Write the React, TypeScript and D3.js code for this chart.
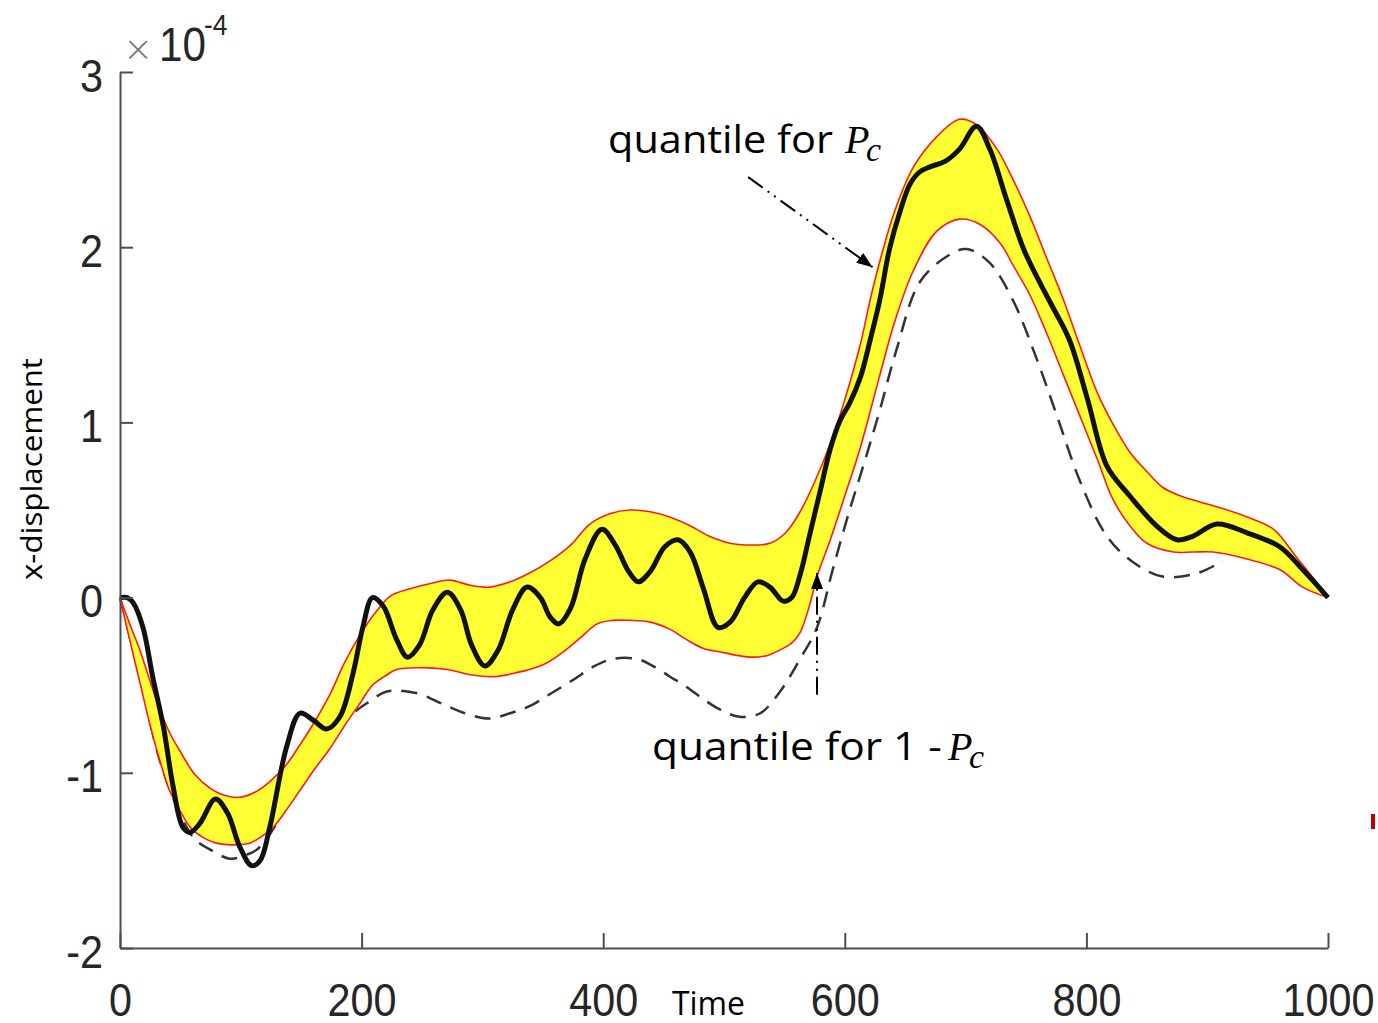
import React, { useEffect, useRef } from 'react';
import * as d3 from 'd3';

// tick values
const xTicks = [0, 200, 400, 600, 800, 1000];
const yTicks = [-2, -1, 0, 1, 2, 3];

// [time, x-displacement (x1e-4)]
const upperQuantile = [
  [0, 0], [8, -0.15], [17, -0.31], [25, -0.48], [33, -0.64], [41, -0.77], [50, -0.88], [62, -1.01],
  [75, -1.09], [87, -1.13], [99, -1.14], [112, -1.11], [124, -1.05], [137, -0.96], [149, -0.84],
  [161, -0.71], [174, -0.55], [186, -0.37], [199, -0.21], [211, -0.09], [224, 0.01], [240, 0.05],
  [257, 0.08], [273, 0.1], [290, 0.07], [306, 0.06], [323, 0.09], [339, 0.14], [356, 0.21],
  [373, 0.3], [389, 0.42], [406, 0.48], [422, 0.5], [439, 0.49], [455, 0.46], [472, 0.41],
  [488, 0.35], [505, 0.31], [522, 0.3], [538, 0.31], [551, 0.37], [563, 0.49], [575, 0.66],
  [588, 0.88], [600, 1.13], [613, 1.45], [621, 1.7], [629, 1.92], [642, 2.22], [657, 2.46],
  [676, 2.63], [695, 2.73], [709, 2.7], [726, 2.56], [739, 2.39], [753, 2.18], [767, 1.94],
  [781, 1.7], [795, 1.43], [809, 1.17], [822, 0.99], [836, 0.83], [850, 0.72], [863, 0.63],
  [878, 0.58], [892, 0.55], [912, 0.51], [933, 0.46], [955, 0.39], [974, 0.23], [988, 0.11], [1000, 0],
];

const lowerQuantile = [
  [0, 0], [8, -0.24], [17, -0.5], [25, -0.73], [33, -0.93], [41, -1.1], [50, -1.22], [58, -1.31],
  [69, -1.37], [79, -1.4], [89, -1.41], [99, -1.41], [108, -1.4], [118, -1.36], [127, -1.31],
  [138, -1.21], [149, -1.1], [161, -0.98], [174, -0.86], [186, -0.73], [199, -0.6], [209, -0.5],
  [219, -0.45], [229, -0.41], [248, -0.4], [271, -0.41], [290, -0.44], [312, -0.45], [327, -0.43],
  [339, -0.41], [354, -0.37], [367, -0.31], [381, -0.23], [395, -0.15], [408, -0.13], [422, -0.13],
  [439, -0.14], [455, -0.18], [469, -0.24], [483, -0.29], [497, -0.31], [511, -0.33], [524, -0.34],
  [536, -0.33], [546, -0.3], [556, -0.26], [563, -0.2], [571, -0.04], [577, 0.12], [588, 0.33],
  [600, 0.58], [613, 0.86], [629, 1.27], [642, 1.59], [657, 1.87], [676, 2.09], [695, 2.16],
  [712, 2.13], [729, 2.02], [739, 1.9], [753, 1.73], [767, 1.51], [781, 1.27], [795, 1.03],
  [809, 0.79], [822, 0.56], [836, 0.41], [850, 0.31], [872, 0.26], [888, 0.26], [905, 0.26],
  [933, 0.22], [960, 0.16], [979, 0.06], [1000, 0],
];

const samplePath = [
  [0, 0], [6, 0], [11, -0.03], [19, -0.17], [27, -0.45], [36, -0.74], [44, -1.08], [52, -1.31],
  [58, -1.34], [66, -1.29], [79, -1.15], [89, -1.23], [99, -1.42], [109, -1.53], [116, -1.5],
  [124, -1.31], [138, -0.85], [149, -0.66], [160, -0.7], [171, -0.75], [182, -0.68], [193, -0.43],
  [201, -0.17], [209, 0], [218, -0.05], [229, -0.24], [238, -0.34], [248, -0.27], [259, -0.07],
  [271, 0.03], [282, -0.07], [291, -0.27], [302, -0.39], [313, -0.3], [325, -0.07], [337, 0.06],
  [348, 0], [356, -0.11], [363, -0.15], [373, -0.06], [385, 0.22], [399, 0.39], [410, 0.3],
  [421, 0.15], [429, 0.09], [439, 0.15], [451, 0.29], [462, 0.33], [472, 0.26], [483, 0.05],
  [495, -0.17], [505, -0.14], [517, 0], [528, 0.09], [538, 0.06], [549, -0.02], [556, 0],
  [563, 0.13], [571, 0.36], [580, 0.62], [588, 0.85], [596, 1.01], [604, 1.11], [613, 1.26],
  [621, 1.47], [629, 1.7], [637, 1.99], [646, 2.21], [654, 2.36], [662, 2.43], [671, 2.46],
  [683, 2.49], [695, 2.56], [709, 2.69], [720, 2.56], [734, 2.27], [748, 1.99], [762, 1.79],
  [772, 1.66], [786, 1.47], [801, 1.13], [817, 0.75], [836, 0.58], [858, 0.41], [875, 0.33],
  [888, 0.35], [908, 0.42], [933, 0.37], [960, 0.29], [979, 0.16], [1000, 0],
];

const referencePath = [
  [0, 0], [17, -0.47], [33, -0.93], [50, -1.24], [62, -1.38], [75, -1.44], [91, -1.49], [104, -1.47],
  [113, -1.44], [126, -1.33], [138, -1.19], [149, -1.08], [160, -0.97], [171, -0.84], [182, -0.74],
  [193, -0.66], [205, -0.6], [219, -0.54], [229, -0.53], [248, -0.55], [271, -0.62], [290, -0.67],
  [306, -0.69], [323, -0.66], [339, -0.62], [356, -0.55], [375, -0.47], [393, -0.39], [408, -0.35],
  [428, -0.35], [441, -0.39], [455, -0.45], [469, -0.51], [483, -0.58], [497, -0.64], [513, -0.68],
  [530, -0.66], [546, -0.54], [563, -0.35], [577, -0.17], [590, 0.16], [604, 0.5], [617, 0.79],
  [629, 1.07], [643, 1.42], [662, 1.8], [685, 1.95], [701, 1.99], [720, 1.91], [739, 1.7],
  [759, 1.36], [776, 1.03], [795, 0.66], [817, 0.35], [839, 0.2], [863, 0.12], [892, 0.14], [913, 0.21],
];

// annotation arrows (data coords)
const arrowUpper = [[520, 2.4], [623, 1.886]];
const arrowLower = [[577, -0.554], [577, 0.14]];

const W = 1378;
const H = 1023;

export default function App() {
  const ref = useRef<SVGSVGElement>(null);

  useEffect(() => {
    const svg = d3.select(ref.current);
    svg.selectAll('*').remove();

    const x = d3.scaleLinear().domain([0, 1000]).range([120, 1328]);
    const y = d3.scaleLinear().domain([-2, 3]).range([948, 72]);

    const line = d3.line<number[]>()
      .x(d => x(d[0]))
      .y(d => y(d[1]))
      .curve(d3.curveCatmullRom.alpha(0.5));

    const defs = svg.append('defs');
    defs.append('marker')
      .attr('id', 'arrowHead')
      .attr('viewBox', '0 0 16 12')
      .attr('refX', 16)
      .attr('refY', 6)
      .attr('markerWidth', 16)
      .attr('markerHeight', 12)
      .attr('markerUnits', 'userSpaceOnUse')
      .attr('orient', 'auto')
      .append('path')
      .attr('d', 'M0,0 L16,6 L0,12 Z')
      .attr('fill', '#000');

    // 점선 (reference)
    svg.append('path')
      .attr('d', line(referencePath))
      .attr('fill', 'none')
      .attr('stroke', '#333')
      .attr('stroke-width', 2.5)
      .attr('stroke-dasharray', '16 10');

    // quantile band
    const upperD = line(upperQuantile) as string;
    const lowerD = line(lowerQuantile.slice().reverse()) as string;
    svg.append('path')
      .attr('d', upperD + 'L' + lowerD.slice(1) + 'Z')
      .attr('fill', '#ffff33');
    [upperD, line(lowerQuantile) as string].forEach(dd => {
      svg.append('path')
        .attr('d', dd)
        .attr('fill', 'none')
        .attr('stroke', '#ff1a1a')
        .attr('stroke-width', 1.6);
    });

    // sample path
    svg.append('path')
      .attr('d', line(samplePath))
      .attr('fill', 'none')
      .attr('stroke', '#111')
      .attr('stroke-width', 5)
      .attr('stroke-linejoin', 'round');

    // axes
    const axisColor = '#4d4d4d';
    const fontAxis = '"Liberation Sans", Arial, sans-serif';
    const sx = 0.88;

    const yAxis = svg.append('g')
      .attr('transform', `translate(${x(0)},0)`)
      .call(d3.axisLeft(y).tickValues(yTicks).tickSize(-13).tickSizeOuter(0).tickPadding(0)
        .tickFormat(d => String(d)));
    const xAxis = svg.append('g')
      .attr('transform', `translate(0,${y(-2)})`)
      .call(d3.axisBottom(x).tickValues(xTicks).tickSize(-15).tickSizeOuter(0).tickPadding(0)
        .tickFormat(d => String(d)));

    [yAxis, xAxis].forEach(g => {
      g.attr('font-family', null).attr('font-size', null);
      g.select('.domain').attr('stroke', axisColor).attr('stroke-width', 2);
      g.selectAll('.tick line').attr('stroke', axisColor).attr('stroke-width', 2);
      g.selectAll('.tick text')
        .style('font-family', fontAxis)
        .style('font-size', '47px')
        .attr('fill', '#262626');
    });
    yAxis.selectAll('.tick text')
      .attr('x', -17 / sx)
      .attr('dy', null)
      .attr('y', 19)
      .attr('transform', `scale(${sx},1)`);
    xAxis.selectAll('.tick text')
      .attr('dy', null)
      .attr('y', 68)
      .attr('transform', `scale(${sx},1)`);

    // exponent
    svg.append('text')
      .attr('x', 123).attr('y', 61)
      .style('font-family', '"DejaVu Sans", sans-serif').style('font-size', '36px')
      .style('font-weight', 200)
      .attr('fill', '#777')
      .text('×');
    svg.append('text')
      .attr('transform', `translate(159,61) scale(${sx},1)`)
      .style('font-family', fontAxis).style('font-size', '48px')
      .attr('fill', '#262626')
      .text('10');
    svg.append('text')
      .attr('transform', `translate(204,35) scale(${sx},1)`)
      .style('font-family', fontAxis).style('font-size', '30px')
      .attr('fill', '#262626')
      .text('-4');

    // axis titles
    const fontNote = '"Open Sans", "Noto Sans", sans-serif';
    svg.append('text')
      .attr('transform', 'translate(42,469) rotate(-90)')
      .attr('text-anchor', 'middle')
      .attr('textLength', 222)
      .attr('lengthAdjust', 'spacingAndGlyphs')
      .style('font-family', fontNote).style('font-size', '30px')
      .attr('fill', '#000')
      .text('x-displacement');
    svg.append('text')
      .attr('x', 672).attr('y', 1015)
      .attr('textLength', 73)
      .attr('lengthAdjust', 'spacingAndGlyphs')
      .style('font-family', fontNote).style('font-size', '32px')
      .attr('fill', '#000')
      .text('Time');

    // annotations
    const note = (tx: number, ty: number, label: string, len: number, px: number) => {
      svg.append('text')
        .attr('x', tx).attr('y', ty)
        .attr('textLength', len)
        .attr('lengthAdjust', 'spacingAndGlyphs')
        .style('font-family', fontNote).style('font-size', '38px')
        .attr('fill', '#000')
        .text(label);
      svg.append('text')
        .attr('x', px).attr('y', ty)
        .style('font-family', '"Liberation Serif", "DejaVu Serif", serif')
        .style('font-style', 'italic')
        .style('font-size', '40px')
        .attr('fill', '#000')
        .text('P');
      svg.append('text')
        .attr('x', px + 21).attr('y', ty + 8)
        .style('font-family', '"Liberation Serif", "DejaVu Serif", serif')
        .style('font-style', 'italic')
        .style('font-size', '34px')
        .attr('fill', '#000')
        .text('c');
    };
    note(608, 153, 'quantile for', 225, 845);
    note(652, 760, 'quantile for 1 -', 290, 948);

    [arrowUpper, arrowLower].forEach(a => {
      svg.append('path')
        .attr('d', d3.line<number[]>().x(d => x(d[0])).y(d => y(d[1]))(a))
        .attr('fill', 'none')
        .attr('stroke', '#000')
        .attr('stroke-width', 2)
        .attr('stroke-dasharray', '18 6 2 6 2 6')
        .attr('marker-end', 'url(#arrowHead)');
    });

    // stray mark at right edge
    svg.append('rect')
      .attr('x', 1371).attr('y', 814)
      .attr('width', 4).attr('height', 15)
      .attr('fill', '#c00000');
  }, []);

  return (
    <svg
      ref={ref}
      width={W}
      height={H}
      style={{ position: 'absolute', left: 0, top: 0, background: '#fff' }}
    />
  );
}
